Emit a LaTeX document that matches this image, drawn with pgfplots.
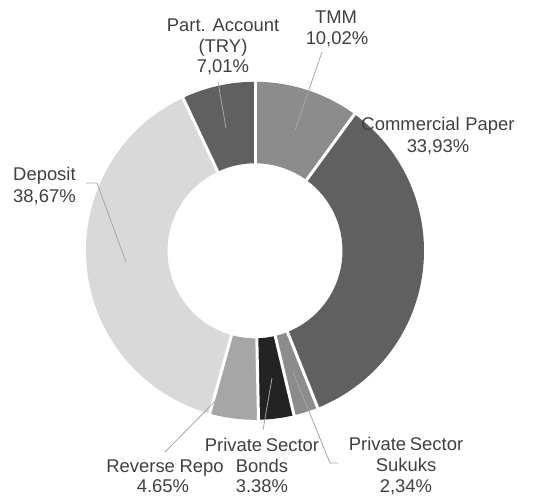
\documentclass[border=0pt]{standalone}
\usepackage{pgfplots}
\pgfplotsset{compat=1.18}
\usepackage{pgfplotstable}
\usepackage{fontspec}
\setmainfont{Liberation Sans}
\definecolor{cTMM}{HTML}{8C8C8C}
\definecolor{cCP}{HTML}{606060}
\definecolor{cSuk}{HTML}{8C8C8C}
\definecolor{cBond}{HTML}{232323}
\definecolor{cRepo}{HTML}{A6A6A6}
\definecolor{cDep}{HTML}{D9D9D9}
\definecolor{cPart}{HTML}{606060}
\definecolor{txt}{HTML}{404040}
\definecolor{lead}{HTML}{A6A6A6}
\pgfplotstableread[col sep=comma]{
name,value
TMM,10.02
Commercial Paper,33.93
Private Sector Sukuks,2.34
Private Sector Bonds,3.38
Reverse Repo,4.65
Deposit,38.67
Part. Account (TRY),7.01
}\donutdata
\begin{document}
\begin{tikzpicture}
\path[use as bounding box] (0,0) rectangle (538bp,497bp);
\def\acc{0}
\foreach \i in {0,...,6}{%
  \pgfplotstablegetelem{\i}{value}\of\donutdata
  \pgfmathsetmacro\tmpS{\acc*3.6}%
  \pgfmathsetmacro\tmpA{\acc+\pgfplotsretval}%
  \pgfmathsetmacro\tmpE{\tmpA*3.6}%
  \expandafter\xdef\csname sa\i\endcsname{\tmpS}%
  \expandafter\xdef\csname ea\i\endcsname{\tmpE}%
  \xdef\acc{\tmpA}%
}
\def\cx{255}\def\cy{250.8}\def\rm{128.25}
\begin{axis}[
  at={(0,0)}, anchor=south west,
  width=538bp, height=497bp, scale only axis,
  xmin=0, xmax=538, ymin=0, ymax=497, y dir=reverse,
  hide axis, clip=false,
  every axis plot/.append style={no markers},
]
\newcommand\slice[2]{%
  \addplot[draw=#2, line width=81.5bp, samples=90, variable=\a,
    domain=\csname sa#1\endcsname:\csname ea#1\endcsname]
    ({\cx+\rm*sin(\a)},{\cy-\rm*cos(\a)});
}
\slice{0}{cTMM}
\slice{1}{cCP}
\slice{2}{cSuk}
\slice{3}{cBond}
\slice{4}{cRepo}
\slice{5}{cDep}
\slice{6}{cPart}
% white separators at slice boundaries
\newcommand\sep[1]{%
  \addplot[draw=white, line width=3bp, samples=2, variable=\r, domain=84:172]
    ({\cx+\r*sin(\csname sa#1\endcsname)},{\cy-\r*cos(\csname sa#1\endcsname)});
}
\sep{0}\sep{1}\sep{2}\sep{3}\sep{4}\sep{5}\sep{6}
% leader lines
\addplot[lead, line width=0.8bp] coordinates {(322,52) (295,130)};
\addplot[lead, line width=0.8bp] coordinates {(218,82) (226,128)};
\addplot[lead, line width=0.8bp] coordinates {(86,183) (97,183) (126,262)};
\addplot[lead, line width=0.8bp] coordinates {(239,377) (165,452)};
\addplot[lead, line width=0.8bp] coordinates {(272,378) (263,430)};
\addplot[lead, line width=0.8bp] coordinates {(293,372) (330,463) (338,463)};
% labels
\tikzset{lbl/.style={anchor=base, text=txt, font=\fontsize{18.5}{21}\selectfont, inner sep=0pt}}
\node[lbl] at (223,32) {Part. Account};
\node[lbl] at (223,53) {(TRY)};
\node[lbl] at (223,73) {7,01\%};
\node[lbl] at (336,24) {TMM};
\node[lbl] at (337,45) {10,02\%};
\node[lbl] at (438,130) {Commercial\hspace{0.3em}Paper};
\node[lbl] at (438,152) {33,93\%};
\node[lbl, anchor=base west] at (13,180) {Deposit};
\node[lbl, anchor=base west] at (13,202) {38,67\%};
\node[lbl] at (262,451) {Private\hspace{0.2em}Sector};
\node[lbl] at (262,472) {Bonds};
\node[lbl] at (262,492) {3.38\%};
\node[lbl] at (165,472) {Reverse\hspace{0.25em}Repo};
\node[lbl] at (163,492) {4.65\%};
\node[lbl] at (406,450) {Private\hspace{0.2em}Sector};
\node[lbl] at (406,471) {Sukuks};
\node[lbl] at (406,492) {2,34\%};
\end{axis}
\end{tikzpicture}
\end{document}
